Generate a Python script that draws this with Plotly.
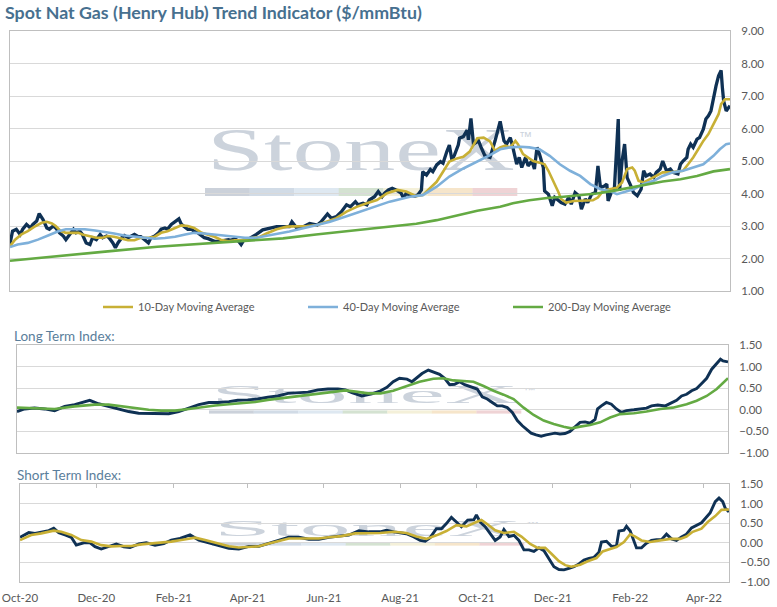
import base64
import pandas as pd
import plotly.graph_objects as go

# ---------------- data ----------------
START = "2020-10-01"
END = "2022-04-21"

spot_days = [
    0, 2, 5, 8, 10, 13, 16, 18, 21, 23,
    26, 29, 31, 34, 36, 39, 42, 44, 47, 50,
    52, 55, 57, 60, 63, 65, 68, 71, 73, 76,
    78, 81, 83, 85, 88, 90, 93, 96, 98, 101,
    103, 106, 109, 111, 114, 117, 119, 122, 124, 127,
    130, 133, 135, 138, 140, 143, 145, 148, 151, 153,
    156, 159, 161, 164, 166, 169, 172, 174, 177, 180,
    182, 184, 187, 191, 194, 199, 205, 210, 215, 220,
    222, 226, 231, 236, 242, 245, 250, 253, 257, 261,
    265, 268, 272, 274, 278, 281, 283, 287, 290, 293,
    295, 298, 301, 304, 308, 310, 312, 315, 319, 321,
    324, 325, 328, 331, 333, 336, 339, 341, 344, 346,
    348, 350, 353, 354, 357, 360, 361, 363, 365, 369,
    371, 374, 378, 382, 386, 389, 391, 394, 396, 399,
    401, 403, 406, 408, 411, 413, 415, 417, 420, 421,
    424, 427, 429, 432, 434, 437, 440, 442, 445, 448,
    450, 453, 455, 458, 461, 463, 465, 468, 470, 471,
    474, 476, 479, 480, 482, 484, 486, 489, 491, 494,
    497, 499, 501, 504, 507, 509, 512, 514, 517, 520,
    522, 526, 528, 530, 533, 534, 536, 538, 541, 543,
    546, 548, 550, 552, 554, 556, 558, 560, 561, 562,
    564, 566, 567]
spot_values = [
    2.45, 2.84, 2.90, 2.74, 2.90, 3.05, 2.94, 3.05, 3.15, 3.38,
    3.20, 2.94, 2.90, 3.00, 2.94, 2.79, 2.69, 2.58, 2.74, 2.90,
    2.79, 2.84, 2.74, 2.48, 2.43, 2.64, 2.58, 2.74, 2.64, 2.69,
    2.64, 2.48, 2.33, 2.48, 2.64, 2.71, 2.64, 2.71, 2.74, 2.67,
    2.67, 2.58, 2.48, 2.64, 2.69, 2.79, 2.90, 2.94, 2.90, 3.05,
    3.15, 3.22, 3.05, 2.94, 2.90, 2.90, 2.84, 2.79, 2.71, 2.64,
    2.61, 2.56, 2.53, 2.53, 2.55, 2.56, 2.58, 2.56, 2.61, 2.53,
    2.43, 2.56, 2.58, 2.67, 2.74, 2.88, 2.93, 2.98, 2.98, 2.98,
    3.13, 2.93, 2.98, 3.08, 3.03, 3.13, 3.37, 3.24, 3.29, 3.44,
    3.65, 3.59, 3.75, 3.65, 3.70, 3.65, 3.80, 3.90, 4.06, 3.90,
    4.01, 4.11, 4.16, 4.11, 4.01, 3.85, 4.01, 3.95, 3.92, 3.95,
    4.11, 4.67, 4.57, 4.74, 4.67, 4.88, 4.98, 4.93, 5.29, 5.49,
    5.03, 5.18, 5.49, 5.70, 5.75, 5.95, 5.65, 6.31, 5.52, 5.62,
    5.42, 5.16, 5.11, 5.62, 6.22, 5.62, 5.52, 5.72, 5.42, 4.90,
    5.11, 4.80, 5.11, 4.85, 5.00, 4.75, 5.42, 5.21, 4.80, 4.08,
    3.98, 3.62, 3.88, 3.77, 3.72, 3.67, 3.88, 3.67, 4.03, 3.93,
    3.52, 3.83, 3.72, 3.98, 4.03, 4.85, 4.18, 4.23, 4.29, 3.77,
    4.08, 4.18, 6.29, 4.08, 5.00, 5.52, 4.49, 4.23, 4.03, 3.93,
    4.13, 4.70, 4.54, 4.60, 4.49, 4.65, 4.75, 5.00, 4.70, 4.75,
    4.65, 4.60, 4.90, 5.00, 5.11, 5.36, 5.52, 5.42, 5.67, 5.72,
    5.98, 6.29, 6.39, 6.54, 6.95, 7.31, 7.62, 7.79, 7.26, 6.85,
    6.54, 6.65, 6.70]

ma10_days = [
    0, 4, 9, 14, 19, 25, 29, 33, 36, 40, 44, 48, 54, 57, 63, 68, 73, 77, 82, 88,
    93, 98, 103, 109, 114, 119, 124, 130, 135, 140, 145, 151, 156, 161, 166, 172,
    177, 182, 187, 194, 197, 202, 210, 218, 226, 234, 242, 249, 257, 265, 273, 281,
    289, 297, 305, 312, 320, 325, 331, 336, 341, 346, 352, 357, 362, 368, 373, 378,
    382, 386, 390, 394, 398, 400, 404, 408, 412, 417, 421, 424, 428, 432, 434, 438,
    444, 449, 454, 459, 463, 467, 472, 478, 482, 486, 490, 492, 495, 499, 504, 509,
    514, 520, 525, 530, 534, 538, 542, 546, 550, 554, 558, 560, 563, 567]
ma10_values = [
    2.38, 2.58, 2.74, 2.84, 2.97, 3.10, 3.13, 3.08, 3.00, 2.84, 2.79, 2.79, 2.79, 2.74, 2.69, 2.64, 2.64, 2.69, 2.67, 2.61,
    2.56, 2.56, 2.64, 2.64, 2.67, 2.79, 2.84, 2.94, 3.02, 3.00, 2.94, 2.79, 2.74, 2.67, 2.58, 2.53,
    2.56, 2.56, 2.61, 2.64, 2.67, 2.77, 2.90, 2.98, 2.98, 3.00, 3.03, 3.13, 3.24, 3.44, 3.59, 3.70,
    3.80, 4.01, 4.11, 4.06, 3.92, 3.95, 4.16, 4.36, 4.67, 4.98, 5.08, 5.13, 5.29, 5.70, 5.72, 5.60,
    5.31, 5.42, 5.47, 5.42, 5.62, 5.52, 5.21, 5.11, 5.00, 4.95, 4.90, 4.70, 4.39, 4.03, 3.83, 3.72,
    3.77, 3.77, 3.79, 3.79, 3.88, 4.08, 4.13, 4.18, 4.34, 4.75, 4.80, 4.70, 4.39, 4.34, 4.44, 4.54,
    4.65, 4.65, 4.68, 4.70, 4.90, 5.11, 5.36, 5.62, 5.83, 6.13, 6.44, 6.75, 6.90, 6.90]

ma40_days = [
    0, 6, 14, 22, 30, 38, 44, 51, 59, 67, 75, 82, 90, 98, 106, 114, 122, 130, 138, 145,
    153, 161, 169, 177, 185, 194, 205, 220, 236, 252, 268, 283, 299, 315, 325, 336, 346, 357, 368, 378,
    386, 394, 402, 409, 417, 425, 433, 441, 449, 457, 465, 472, 478, 483, 491, 499, 507, 514, 522, 530,
    538, 546, 554, 559, 564, 567]
ma40_values = [
    2.35, 2.43, 2.48, 2.58, 2.71, 2.84, 2.90, 2.91, 2.90, 2.86, 2.82, 2.77, 2.71, 2.67, 2.64, 2.61, 2.63, 2.67, 2.74, 2.79,
    2.77, 2.74, 2.71, 2.67, 2.64, 2.64, 2.72, 2.83, 2.98, 3.13, 3.34, 3.54, 3.75, 3.90, 3.95, 4.21, 4.52, 4.77, 4.98, 5.18,
    5.36, 5.42, 5.44, 5.42, 5.36, 5.16, 4.90, 4.70, 4.54, 4.29, 4.13, 4.08, 3.98, 4.03, 4.13, 4.29, 4.39, 4.54, 4.65, 4.70,
    4.80, 4.90, 5.16, 5.36, 5.52, 5.54]

ma200_days = [0, 38, 77, 116, 156, 194, 215, 241, 268, 294, 320, 336, 352, 368, 386, 396, 409, 423, 436, 449,
              462, 475, 488, 501, 514, 528, 541, 554, 567]
ma200_values = [1.93, 2.08, 2.22, 2.36, 2.47, 2.56, 2.62, 2.74, 2.86, 2.97, 3.07, 3.18, 3.32, 3.47, 3.59, 3.70, 3.79, 3.86, 3.90, 3.95,
                4.00, 4.08, 4.18, 4.29, 4.37, 4.44, 4.54, 4.68, 4.75]

long_days = [
    0, 6, 14, 22, 30, 38, 46, 54, 58, 65, 73, 81, 89, 97, 105, 113, 121, 129, 137, 145,
    153, 161, 169, 176, 184, 192, 200, 208, 216, 224, 232, 240, 248, 256, 262, 267, 275, 283, 290, 295,
    300, 305, 311, 315, 319, 323, 328, 332, 337, 341, 345, 349, 353, 357, 361, 367, 371, 375, 379, 383,
    387, 391, 395, 399, 403, 407, 410, 414, 418, 422, 426, 429, 433, 437, 441, 445, 449, 453, 457, 461,
    463, 466, 470, 474, 478, 482, 486, 492, 497, 502, 506, 511, 517, 522, 526, 530, 534, 538, 542, 546,
    550, 554, 558, 561, 563, 567]
long_values = [
    -0.04, 0.02, 0.04, 0.02, -0.02, 0.08, 0.12, 0.19, 0.22, 0.14, 0.08, 0.02, -0.04, -0.08, -0.08, -0.09, -0.09, -0.04, 0.04, 0.12,
    0.17, 0.17, 0.19, 0.22, 0.23, 0.25, 0.29, 0.32, 0.38, 0.40, 0.41, 0.46, 0.48, 0.48, 0.46, 0.40, 0.32, 0.37, 0.44, 0.52,
    0.65, 0.73, 0.71, 0.65, 0.75, 0.84, 0.92, 0.88, 0.82, 0.73, 0.58, 0.59, 0.65, 0.58, 0.54, 0.48, 0.30, 0.25, 0.17, 0.09,
    0.09, 0.05, -0.06, -0.25, -0.37, -0.47, -0.54, -0.58, -0.61, -0.58, -0.56, -0.54, -0.56, -0.55, -0.50, -0.39, -0.29, -0.28, -0.31, -0.22,
    0.02, 0.09, 0.17, 0.13, 0.02, -0.06, -0.02, 0.00, 0.02, 0.04, 0.09, 0.11, 0.09, 0.17, 0.22, 0.32, 0.36, 0.44, 0.49, 0.61,
    0.73, 0.94, 1.07, 1.17, 1.13, 1.11]

long_avg_days = [
    0, 14, 30, 46, 62, 73, 83, 94, 105, 115, 126, 137, 147, 158, 169, 179, 190, 200, 211, 222,
    232, 243, 254, 262, 270, 280, 290, 300, 311, 321, 332, 340, 348, 356, 364, 372, 380, 388, 396, 404,
    412, 420, 428, 436, 442, 449, 457, 465, 473, 481, 492, 502, 513, 523, 534, 542, 550, 558, 563, 567]
long_avg_values = [
    0.05, 0.04, 0.02, 0.08, 0.12, 0.12, 0.08, 0.04, 0.00, -0.02, -0.02, 0.02, 0.06, 0.10, 0.13, 0.15, 0.18, 0.23, 0.27, 0.31,
    0.35, 0.38, 0.42, 0.45, 0.42, 0.38, 0.38, 0.44, 0.55, 0.65, 0.72, 0.73, 0.68, 0.67, 0.65, 0.55, 0.44, 0.35, 0.25, 0.05,
    -0.12, -0.25, -0.33, -0.39, -0.43, -0.39, -0.35, -0.29, -0.18, -0.10, -0.08, -0.04, 0.02, 0.05, 0.13, 0.21, 0.32, 0.48, 0.63, 0.73]

short_days = [
    0, 7, 12, 17, 23, 27, 31, 36, 41, 45, 51, 56, 60, 65, 71, 77, 83, 88, 95, 101,
    108, 115, 121, 128, 136, 143, 151, 159, 167, 175, 183, 191, 199, 207, 215, 223, 231, 239, 247, 255,
    263, 271, 279, 288, 293, 299, 304, 309, 315, 320, 324, 328, 333, 337, 341, 345, 349, 353, 358, 363,
    365, 368, 372, 376, 380, 384, 387, 391, 395, 399, 403, 407, 411, 415, 419, 423, 427, 431, 435, 439,
    443, 447, 451, 455, 459, 463, 465, 469, 473, 477, 479, 483, 485, 488, 491, 493, 497, 501, 505, 509,
    513, 517, 521, 525, 529, 533, 537, 541, 545, 548, 552, 556, 559, 562, 564, 567]
short_values = [
    0.14, 0.26, 0.24, 0.28, 0.31, 0.37, 0.26, 0.20, 0.14, -0.06, 0.00, 0.00, -0.10, -0.16, -0.10, -0.03, -0.10, -0.12, -0.03, 0.00,
    -0.06, -0.02, 0.07, 0.11, 0.20, 0.07, 0.00, -0.07, -0.14, -0.16, -0.09, -0.09, -0.02, 0.07, 0.14, 0.14, 0.09, 0.09, 0.14, 0.17,
    0.20, 0.31, 0.28, 0.28, 0.32, 0.28, 0.25, 0.23, 0.15, 0.06, 0.04, 0.13, 0.36, 0.36, 0.49, 0.65, 0.53, 0.41, 0.58, 0.59,
    0.71, 0.53, 0.41, 0.23, 0.06, 0.15, 0.34, 0.16, 0.19, 0.06, -0.18, -0.18, -0.22, -0.13, -0.20, -0.41, -0.61, -0.68, -0.69, -0.65,
    -0.61, -0.54, -0.44, -0.40, -0.37, -0.24, 0.02, 0.04, -0.09, -0.08, 0.30, 0.32, 0.42, 0.30, 0.06, -0.13, -0.13, -0.01, 0.06, 0.08,
    0.08, 0.22, 0.10, 0.06, 0.15, 0.22, 0.38, 0.45, 0.51, 0.62, 0.77, 1.05, 1.14, 1.05, 0.88, 0.79]

short_avg_days = [
    0, 9, 17, 27, 33, 41, 49, 57, 65, 73, 81, 89, 97, 105, 113, 121, 129, 140, 148, 156,
    167, 175, 183, 191, 199, 207, 215, 223, 231, 239, 247, 257, 268, 279, 288, 299, 309, 317, 325, 333,
    341, 349, 357, 365, 369, 373, 380, 387, 395, 401, 408, 414, 420, 425, 431, 436, 441, 448, 454, 461,
    466, 472, 477, 483, 488, 492, 497, 504, 512, 520, 528, 533, 538, 545, 550, 556, 561, 567]
short_avg_values = [
    0.07, 0.20, 0.24, 0.31, 0.28, 0.20, 0.07, 0.03, -0.06, -0.09, -0.08, -0.08, -0.04, -0.02, 0.00, 0.03, 0.07, 0.13, 0.07, 0.00,
    -0.09, -0.12, -0.10, -0.09, -0.02, 0.05, 0.11, 0.11, 0.11, 0.11, 0.14, 0.17, 0.24, 0.24, 0.25, 0.28, 0.25, 0.16, 0.10, 0.19,
    0.30, 0.45, 0.42, 0.53, 0.58, 0.49, 0.32, 0.25, 0.28, 0.16, -0.03, -0.13, -0.13, -0.28, -0.47, -0.57, -0.61, -0.56, -0.47, -0.39,
    -0.22, -0.16, -0.11, 0.02, 0.22, 0.16, 0.06, 0.02, 0.06, 0.10, 0.10, 0.16, 0.28, 0.36, 0.53, 0.68, 0.84, 0.85]

legend_names = ["10-Day Moving Average", "40-Day Moving Average", "200-Day Moving Average"]
title_text = "Spot Nat Gas (Henry Hub) Trend Indicator ($/mmBtu)"
long_label = "Long Term Index:"
short_label = "Short Term Index:"

# ---------------- styling ----------------
W, H = 777, 607
NAVY = "#0f3154"
GOLD = "#c8b035"
BLUE = "#7eb0da"
GREEN = "#64aa43"
GRID = "#d9d9d9"
FRAME = "#bfbfbf"
TICK = "#595959"
FONT = "Lato"


def fx(p):
    return p / W


def fy(p):
    return 1 - p / H


def dates(days):
    return pd.Timestamp(START) + pd.to_timedelta(days, unit="D")


for a, b in [(spot_days, spot_values), (ma10_days, ma10_values), (ma40_days, ma40_values),
             (ma200_days, ma200_values), (long_days, long_values), (long_avg_days, long_avg_values),
             (short_days, short_values), (short_avg_days, short_avg_values)]:
    assert len(a) == len(b), (len(a), len(b))

fig = go.Figure()

# top panel
fig.add_trace(go.Scatter(x=dates(spot_days), y=spot_values, mode="lines", showlegend=False,
                         line=dict(color=NAVY, width=3.3), xaxis="x", yaxis="y"))
fig.add_trace(go.Scatter(x=dates(ma10_days), y=ma10_values, mode="lines", name=legend_names[0],
                         line=dict(color=GOLD, width=2.6), xaxis="x", yaxis="y"))
fig.add_trace(go.Scatter(x=dates(ma40_days), y=ma40_values, mode="lines", name=legend_names[1],
                         line=dict(color=BLUE, width=2.6), xaxis="x", yaxis="y"))
fig.add_trace(go.Scatter(x=dates(ma200_days), y=ma200_values, mode="lines", name=legend_names[2],
                         line=dict(color=GREEN, width=2.6), xaxis="x", yaxis="y"))

# middle panel
fig.add_trace(go.Scatter(x=dates(long_days), y=long_values, mode="lines", showlegend=False,
                         line=dict(color=NAVY, width=2.9), xaxis="x2", yaxis="y2"))
fig.add_trace(go.Scatter(x=dates(long_avg_days), y=long_avg_values, mode="lines", showlegend=False,
                         line=dict(color=GREEN, width=2.6), xaxis="x2", yaxis="y2"))

# bottom panel
fig.add_trace(go.Scatter(x=dates(short_days), y=short_values, mode="lines", showlegend=False,
                         line=dict(color=NAVY, width=2.9), xaxis="x3", yaxis="y3"))
fig.add_trace(go.Scatter(x=dates(short_avg_days), y=short_avg_values, mode="lines", showlegend=False,
                         line=dict(color=GOLD, width=2.6), xaxis="x3", yaxis="y3"))
# empty helper trace so the top tick-mark axis of the bottom panel is drawn
fig.add_trace(go.Scatter(x=[], y=[], mode="lines", showlegend=False, hoverinfo="skip",
                         xaxis="x4", yaxis="y3"))

xcommon = dict(type="date", range=[START, END], showgrid=False, zeroline=False,
               showline=True, mirror=True, linecolor=FRAME, linewidth=1,
               dtick="M2", tick0=START, tickformat="%b-%y", ticks="",
               tickfont=dict(family=FONT, size=11.5, color=TICK))
ycommon = dict(side="right", showgrid=True, gridcolor=GRID, gridwidth=1, zeroline=False,
               showline=True, mirror=True, linecolor=FRAME, linewidth=1, ticks="",
               tickformat=".2f", ticklabelstandoff=8,
               tickfont=dict(family=FONT, size=11.5, color=TICK))

fig.update_layout(
    width=W, height=H, margin=dict(l=0, r=0, t=0, b=0, autoexpand=False),
    paper_bgcolor="white", plot_bgcolor="rgba(0,0,0,0)",
    xaxis=dict(xcommon, domain=[fx(10), fx(730)], anchor="y", showticklabels=False),
    yaxis=dict(ycommon, domain=[fy(291), fy(31)], anchor="x", range=[1, 9], dtick=1),
    xaxis2=dict(xcommon, domain=[fx(17), fx(728)], anchor="y2", showticklabels=False),
    yaxis2=dict(ycommon, domain=[fy(453), fy(345)], anchor="x2", range=[-1, 1.5], dtick=0.5),
    xaxis3=dict(xcommon, domain=[fx(20), fx(729)], anchor="y3", showticklabels=True,
                ticklabelstandoff=5),
    yaxis3=dict(ycommon, domain=[fy(582), fy(484)], anchor="x3", range=[-1, 1.5], dtick=0.5),
    # short tick marks hanging from the top edge of the bottom panel
    xaxis4=dict(type="date", range=[START, END], overlaying="x3", anchor="y3", side="top",
                dtick="M2", tick0=START, ticks="inside", ticklen=4, tickcolor=FRAME,
                showticklabels=False, showgrid=False, zeroline=False, showline=False),
    legend=dict(orientation="h", x=fx(98), y=fy(307), xanchor="left", yanchor="middle",
                font=dict(family=FONT, size=11, color=TICK), bgcolor="rgba(0,0,0,0)",
                entrywidth=160, entrywidthmode="pixels", itemwidth=30, tracegroupgap=0),
    showlegend=True,
)

# ---------------- watermark (decorative logo image, drawn below the data) ----------------
strip = ["#cbd1da", "#d1dbe6", "#dee8f1", "#d4e2d1", "#f4f0d9", "#f6e5ca", "#efd3d5"]
rects = "".join(
    f'<rect x="{i * 312 / 7:.2f}" y="61" width="{312 / 7 + 0.3:.2f}" height="8" fill="{c}"/>'
    for i, c in enumerate(strip))
svg = (
    '<svg xmlns="http://www.w3.org/2000/svg" width="330" height="70" viewBox="0 0 330 70" '
    'preserveAspectRatio="none">'
    + rects +
    '<text x="2" y="43" font-family="Liberation Serif, DejaVu Serif, serif" font-size="62" '
    'textLength="308" lengthAdjust="spacingAndGlyphs" fill="#ccd3dc">StoneX</text>'
    '<text x="314" y="14" font-family="Liberation Sans, sans-serif" font-size="13" fill="#ccd3dc">&#8482;</text>'
    '</svg>')
src = "data:image/svg+xml;base64," + base64.b64encode(svg.encode("utf-8")).decode("ascii")
for left, top, h in [(205, 127, 70), (209, 386, 28), (212, 520, 26)]:
    fig.add_layout_image(dict(source=src, xref="paper", yref="paper", x=fx(left), y=fy(top),
                              sizex=330 / W, sizey=h / H, sizing="stretch",
                              xanchor="left", yanchor="top", layer="below", opacity=1))

# ---------------- texts ----------------
fig.add_annotation(text=f"<b>{title_text}</b>", xref="paper", yref="paper", x=fx(3), y=fy(12),
                   xanchor="left", yanchor="middle", showarrow=False,
                   font=dict(family=FONT, size=17.8, color="#47708f"))
fig.add_annotation(text=long_label, xref="paper", yref="paper", x=fx(12), y=fy(336),
                   xanchor="left", yanchor="middle", showarrow=False,
                   font=dict(family=FONT, size=13.5, color="#5a7e9b"))
fig.add_annotation(text=short_label, xref="paper", yref="paper", x=fx(15), y=fy(475),
                   xanchor="left", yanchor="middle", showarrow=False,
                   font=dict(family=FONT, size=13.5, color="#5a7e9b"))

# the page's default 8px body margin would shift the figure; remove it
fig.write_html("out.html", config={"displayModeBar": False},
               post_script="document.body.style.margin='0px';document.body.style.overflow='hidden';")
